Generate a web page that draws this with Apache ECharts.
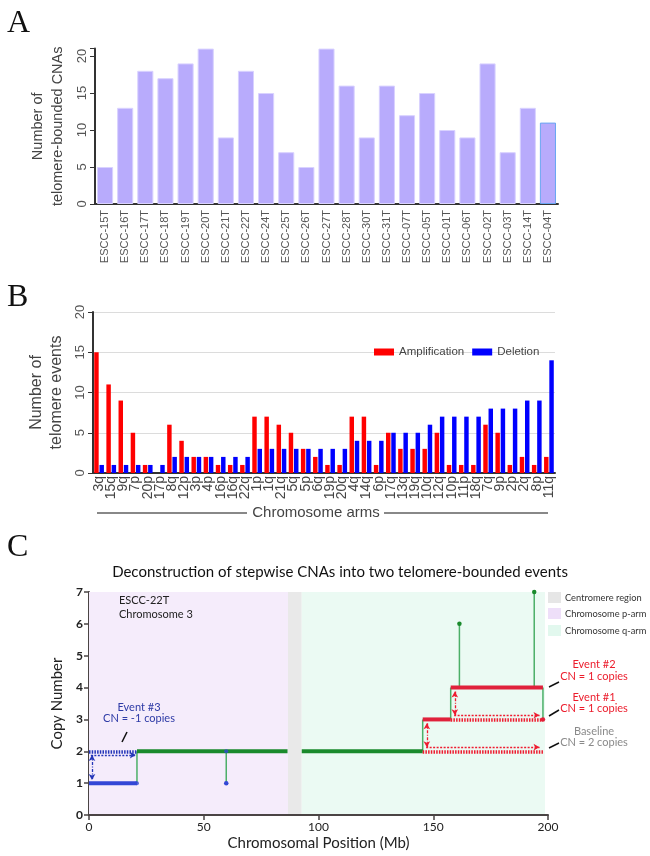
<!DOCTYPE html>
<html><head><meta charset="utf-8">
<script src="https://cdn.jsdelivr.net/npm/echarts@6/dist/echarts.min.js"></script>
<style>html,body{margin:0;padding:0;background:#fff}#c{width:650px;height:856px}</style>
</head><body><div id="c"></div>
<script>
// ---------- Panel A ----------
const samples = ['ESCC-15T','ESCC-16T','ESCC-17T','ESCC-18T','ESCC-19T','ESCC-20T','ESCC-21T','ESCC-22T','ESCC-24T','ESCC-25T','ESCC-26T','ESCC-27T','ESCC-28T','ESCC-30T','ESCC-31T','ESCC-07T','ESCC-05T','ESCC-01T','ESCC-06T','ESCC-02T','ESCC-03T','ESCC-14T','ESCC-04T'];
const cnaCounts = [5,13,18,17,19,21,9,18,15,7,5,21,16,9,16,12,15,10,9,19,7,13,11];
const aTicks = [0,5,10,15,20];

// ---------- Panel B ----------
const arms = ['3q','15q','9q','7p','20p','17p','8q','12p','3p','4p','16p','16q','22q','1p','1q','21q','5q','5p','6q','19p','20q','4q','14q','6p','17q','13q','19q','10q','12q','10p','11p','18q','7q','9p','2p','2q','8p','11q'];
const amplification = [15,11,9,5,1,0,6,4,2,2,1,1,1,7,7,6,5,3,2,1,1,7,7,1,5,3,3,3,5,1,1,1,6,5,1,2,1,2];
const deletion      = [1,1,1,1,1,1,2,2,2,2,2,2,2,3,3,3,3,3,3,3,3,4,4,4,5,5,5,6,7,7,7,7,8,8,8,9,9,14];

// ---------- Panel C ----------
const segStart = [0, 20.9, 92.7, 145.4, 157.6];
const segEnd   = [20.9, 86.5, 145.4, 157.6, 197.8];
const segCN    = [1, 2, 2, 3, 4];
const spikeX    = [59.8, 161.4, 194.0, 197.8];
const spikeFrom = [2, 4, 4, 4];
const spikeTo   = [1, 6, 7, 3];
const regionNames = ['Chromosome p-arm','Centromere region','Chromosome q-arm'];
const regionStart = [0, 86.7, 92.7];
const regionEnd   = [86.7, 92.7, 198.7];
const eventNames = ['Event #3','Event #1','Event #2'];
const eventStart = [0, 145.4, 157.6];
const eventEnd   = [20.9, 197.8, 197.8];
const eventBase  = [2, 2, 3];
const eventDelta = [-1, 1, 1];

const chart = echarts.init(document.getElementById('c'));
const SANS = 'Liberation Sans';
const CF = 'Lato';
const GREEN = '#1a8a2c', RED = '#e0213b', BLUE = '#3347d6', SPIKE = '#4caf68';
function cnColor(cn){ return cn < 2 ? BLUE : (cn > 2 ? RED : GREEN); }

const series = [];
// Panel A bars
series.push({
  type:'bar', xAxisIndex:0, yAxisIndex:0, barCategoryGap:'20%',
  data: cnaCounts.map((v,i)=> i===cnaCounts.length-1 ? {value:v,itemStyle:{borderColor:'#6aa6f2'}} : v),
  itemStyle:{color:'#b8abfc', borderColor:'#d9d2ff', borderWidth:1}
});
// Panel B bars
series.push({type:'bar', name:'Amplification', xAxisIndex:1, yAxisIndex:1, data:amplification,
  itemStyle:{color:'#ff0000'}, barGap:'18%', barCategoryGap:'20%'});
series.push({type:'bar', name:'Deletion', xAxisIndex:1, yAxisIndex:1, data:deletion,
  itemStyle:{color:'#0000ff'}, barGap:'18%', barCategoryGap:'20%'});

// Panel C background regions
const regionColors = {'Chromosome p-arm':'#f5ecfb','Centromere region':'#e9e9e9','Chromosome q-arm':'#ebfaf3'};
series.push({
  type:'line', xAxisIndex:2, yAxisIndex:2, data:[], silent:true, z:1,
  markArea:{silent:true, data: regionNames.map((n,i)=>[
    {xAxis:regionStart[i], yAxis:0.03, itemStyle:{color:regionColors[n]}},
    {xAxis:regionEnd[i], yAxis:7}
  ])}
});
// spikes (single probes)
spikeX.forEach((x,i)=>{
  const dotCol = spikeTo[i]<spikeFrom[i] ? (spikeTo[i]<2?BLUE:RED) : GREEN;
  series.push({type:'line', xAxisIndex:2, yAxisIndex:2, z:3,
    data:[{value:[x,spikeFrom[i]], symbolSize:0},{value:[x,spikeTo[i]], symbolSize:4.5}],
    lineStyle:{color:SPIKE,width:1.5},
    symbol:'circle', showSymbol:true,
    itemStyle:{color:dotCol},
    animation:false
  });
});
// transitions between adjacent segments
for (let i=0;i<segStart.length-1;i++){
  if (Math.abs(segEnd[i]-segStart[i+1])<0.01){
    series.push({type:'line', xAxisIndex:2, yAxisIndex:2, z:3, symbol:'none',
      data:[[segEnd[i],segCN[i]],[segStart[i+1],segCN[i+1]]],
      lineStyle:{color:SPIKE,width:1.5}, animation:false});
  }
}
// main segments
segStart.forEach((s,i)=>{
  series.push({type:'line', xAxisIndex:2, yAxisIndex:2, z:4, symbol:'none',
    data:[[s,segCN[i]],[segEnd[i],segCN[i]]],
    lineStyle:{color:cnColor(segCN[i]), width:4}, animation:false});
});
// end dots
series.push({type:'scatter', xAxisIndex:2, yAxisIndex:2, z:5, symbolSize:4,
  data:[[segEnd[0],segCN[0]],[spikeX[0],spikeFrom[0]]], itemStyle:{color:BLUE}, animation:false});

// Event annotations
const ml = [];
eventStart.forEach((s,i)=>{
  const e = eventEnd[i], b = eventBase[i], d = eventDelta[i];
  const col = d<0 ? '#2436b8' : '#ee1c30';
  ml.push([{coord:[s,b], symbol:'none', lineStyle:{color:col,width:3.5,type:[1.5,1.2]}},{coord:[e,b], symbol:'none'}]);
  const off = d<0 ? -0.12 : 0.13;
  const x0 = s + (d<0?0.8:1.5), x1 = e - (d<0?0.5:1.5);
  ml.push([{coord:[x0,b+off], symbol:'none', lineStyle:{color:col,width:1.3,type:[2,1.5]}},{coord:[x1,b+off], symbol:'arrow'}]);
  const vx = s + (d<0?1.3:1.8);
  ml.push([{coord:[vx,b+off], symbol:'arrow', lineStyle:{color:col,width:1.3,type:[3,1.5,1,1.5]}},{coord:[vx,b+d-(d<0?-0.1:0.12)], symbol:'arrow'}]);
});
series.push({type:'line', xAxisIndex:2, yAxisIndex:2, data:[], z:6,
  markLine:{silent:true, symbolSize:[5,6], label:{show:false}, animation:false, data:ml}});

const axisLineDark = {show:true, lineStyle:{color:'#333', width:2}};
const G = (o)=> Object.assign({z:100}, o);
const option = {
  animation:false,
  textStyle:{fontFamily:SANS},
  grid:[
    {left:95, top:48.6, width:463, height:155.4},
    {left:93, top:312, width:462, height:161},
    {left:89, top:592, width:459, height:223}
  ],
  legend:{data:['Amplification','Deletion'], left:369, top:341, itemWidth:20, itemHeight:7, itemGap:8,
    icon:'rect', textStyle:{fontFamily:SANS, fontSize:11.5, color:'#444'}},
  xAxis:[
    {type:'category', gridIndex:0, data:samples, axisLine:axisLineDark, axisTick:{show:false},
     axisLabel:{rotate:90, interval:0, fontSize:11, color:'#555', margin:6, fontFamily:SANS}},
    {type:'category', gridIndex:1, data:arms, axisLine:axisLineDark, axisTick:{show:false},
     axisLabel:{rotate:90, interval:0, fontSize:14, color:'#444', margin:3, fontFamily:SANS}},
    {type:'value', gridIndex:2, min:0, max:200, interval:50, axisLine:{show:true,lineStyle:{color:'#4a4444',width:2}},
     axisTick:{show:true, length:5, lineStyle:{color:'#4a4444',width:1.5}}, splitLine:{show:false},
     axisLabel:{fontSize:12, color:'#222', fontFamily:CF, margin:6},
     name:'Chromosomal Position (Mb)', nameLocation:'middle', nameGap:21,
     nameTextStyle:{fontFamily:CF, fontSize:15, color:'#222'}}
  ],
  yAxis:[
    {type:'value', gridIndex:0, min:0, max:21, interval:5, axisLine:axisLineDark,
     axisTick:{show:true, length:5, lineStyle:{color:'#333'}}, splitLine:{show:false},
     axisLabel:{rotate:90, fontSize:13, color:'#555', margin:6, fontFamily:SANS,
       formatter:v=> aTicks.includes(v) ? String(v) : ''},
     name:'Number of\ntelomere-bounded CNAs', nameLocation:'middle', nameRotate:90, nameGap:20,
     nameTextStyle:{fontSize:14.5, color:'#444', lineHeight:20, fontFamily:SANS}},
    {type:'value', gridIndex:1, min:0, max:20, interval:5, axisLine:axisLineDark,
     axisTick:{show:true, length:5, lineStyle:{color:'#333'}}, splitLine:{show:true, lineStyle:{color:'#dcdcdc'}},
     axisLabel:{rotate:90, fontSize:13, color:'#555', margin:6, fontFamily:SANS},
     name:'Number of\ntelomere events', nameLocation:'middle', nameRotate:90, nameGap:15,
     nameTextStyle:{fontSize:16, color:'#444', lineHeight:20, fontFamily:SANS}},
    {type:'value', gridIndex:2, min:0, max:7, interval:1, axisLine:{show:true,lineStyle:{color:'#4a4444',width:2}},
     axisTick:{show:true, length:5, lineStyle:{color:'#4a4444',width:1.5}}, splitLine:{show:false},
     axisLabel:{fontSize:12, color:'#222', fontFamily:CF, fontWeight:'bold', margin:6},
     name:'Copy Number', nameLocation:'middle', nameRotate:90, nameGap:19,
     nameTextStyle:{fontFamily:CF, fontSize:15, color:'#222'}}
  ],
  series: series,
  graphic:[
    G({type:'text', left:7, top:8, style:{text:'A', font:'32px "Liberation Serif"', fill:'#111'}}),
    G({type:'text', left:7, top:282, style:{text:'B', font:'32px "Liberation Serif"', fill:'#111'}}),
    G({type:'text', left:7, top:532, style:{text:'C', font:'32px "Liberation Serif"', fill:'#111'}}),
    G({type:'line', shape:{x1:97,y1:513,x2:247,y2:513}, style:{stroke:'#888', lineWidth:2}}),
    G({type:'line', shape:{x1:384,y1:513,x2:548,y2:513}, style:{stroke:'#888', lineWidth:2}}),
    G({type:'text', x:316, y:513, style:{text:'Chromosome arms', font:'15px "Liberation Sans"', fill:'#444', align:'center', verticalAlign:'middle'}}),
    G({type:'text', x:340, y:572, style:{text:'Deconstruction of stepwise CNAs into two telomere-bounded events', font:'15px Lato', fill:'#111', align:'center', verticalAlign:'middle'}}),
    G({type:'text', x:119, y:593, style:{text:'ESCC-22T\nChromosome 3', font:'11px Lato', lineHeight:14, fill:'#222'}}),
    G({type:'rect', shape:{x:548,y:592,width:13,height:11}, style:{fill:'#e6e6e6'}}),
    G({type:'rect', shape:{x:548,y:608,width:13,height:11}, style:{fill:'#eedff9'}}),
    G({type:'rect', shape:{x:548,y:625,width:13,height:11}, style:{fill:'#e2f8ee'}}),
    G({type:'text', x:565, y:597.5, style:{text:'Centromere region', font:'9.3px Lato', fill:'#333', verticalAlign:'middle'}}),
    G({type:'text', x:565, y:613.5, style:{text:'Chromosome p-arm', font:'9.3px Lato', fill:'#333', verticalAlign:'middle'}}),
    G({type:'text', x:565, y:630.5, style:{text:'Chromosome q-arm', font:'9.3px Lato', fill:'#333', verticalAlign:'middle'}}),
    G({type:'text', x:594, y:670.5, style:{text:'Event #2\nCN = 1 copies', font:'11px Lato', lineHeight:11.5, fill:'#ec1c2c', align:'center', verticalAlign:'middle'}}),
    G({type:'text', x:594, y:703, style:{text:'Event #1\nCN = 1 copies', font:'11px Lato', lineHeight:11.5, fill:'#ec1c2c', align:'center', verticalAlign:'middle'}}),
    G({type:'text', x:594, y:737, style:{text:'Baseline\nCN = 2 copies', font:'11px Lato', lineHeight:11.5, fill:'#8a8a8a', align:'center', verticalAlign:'middle'}}),
    G({type:'text', x:139, y:713, style:{text:'Event #3\nCN = -1 copies', font:'11px Lato', lineHeight:11.5, fill:'#2d3aa6', align:'center', verticalAlign:'middle'}}),
    G({type:'line', shape:{x1:549,y1:687,x2:559,y2:682}, style:{stroke:'#111', lineWidth:1.5}}),
    G({type:'line', shape:{x1:549,y1:716,x2:559,y2:710}, style:{stroke:'#111', lineWidth:1.5}}),
    G({type:'line', shape:{x1:549,y1:748,x2:559,y2:743}, style:{stroke:'#111', lineWidth:1.5}}),
    G({type:'line', shape:{x1:122,y1:742,x2:127,y2:732}, style:{stroke:'#111', lineWidth:1.5}})
  ]
};
chart.setOption(option);
</script></body></html>
